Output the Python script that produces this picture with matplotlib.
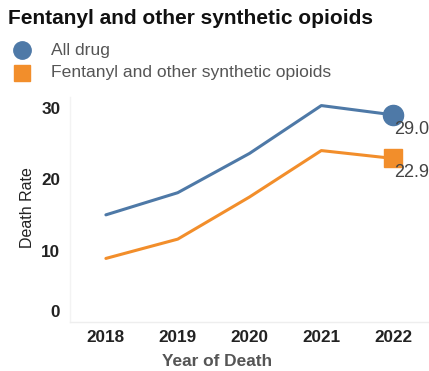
import matplotlib
matplotlib.use("Agg")
import matplotlib.pyplot as plt
from matplotlib.lines import Line2D
from matplotlib.transforms import ScaledTranslation

years = [2018, 2019, 2020, 2021, 2022]
all_drug = [15.0, 18.1, 23.6, 30.3, 29.0]
fentanyl = [8.9, 11.6, 17.5, 24.0, 22.9]
series_names = ["All drug", "Fentanyl and other synthetic opioids"]
yticks = [0, 10, 20, 30]

blue = "#4e79a7"
orange = "#f28e2b"

plt.rcParams['font.family'] = ['Liberation Sans', 'DejaVu Sans']

W, H = 429, 371
fig = plt.figure(figsize=(W / 100, H / 100), dpi=100)
ax = fig.add_axes([70 / W, 1 - 322 / H, (429 - 70) / W, (322 - 97) / H])

ax.plot(years, all_drug, color=blue, lw=2.2, solid_capstyle='round')
ax.plot(years, fentanyl, color=orange, lw=2.2, solid_capstyle='round')
ax.plot(years[-1], all_drug[-1], marker='o', ms=14.5, color=blue, clip_on=False)
ax.plot(years[-1], fentanyl[-1], marker='s', ms=13, color=orange, clip_on=False)

for vals in (all_drug, fentanyl):
    ax.annotate(f"{vals[-1]:.1f}", (years[-1], vals[-1]), xytext=(1, -6),
                textcoords='offset pixels', ha='left', va='top',
                fontsize=13, color='#444444', annotation_clip=False)

ax.set_xlim(2017.5, 2022.5)
ax.set_ylim(0, 31.5)
ax.set_xticks(years)
ax.set_xticklabels([str(y) for y in years], fontweight='bold', fontsize=12.3, color='#222222')
ax.set_yticks(yticks)
ax.set_yticklabels([str(t) for t in yticks], fontweight='bold', fontsize=12.3, color='#222222')
ax.tick_params(length=0)
ax.tick_params(axis='y', pad=7)
ax.tick_params(axis='x', pad=6)
t0 = ax.yaxis.get_major_ticks()[0].label1
t0.set_transform(t0.get_transform() + ScaledTranslation(0, 11 / 100, fig.dpi_scale_trans))

for s in ['top', 'right']:
    ax.spines[s].set_visible(False)
ax.spines['bottom'].set_color('#eeeeee')
ax.spines['left'].set_color('#f3f3f3')
ax.spines['bottom'].set_linewidth(1)
ax.spines['left'].set_linewidth(1)

fig.text(27 / W, 1 - 208 / H, "Death Rate", rotation=90, ha='center', va='center',
         fontsize=11.5, color='#222222')
fig.text(217 / W, 1 - 362 / H, "Year of Death", ha='center', va='center',
         fontsize=12.4, fontweight='bold', color='#555555')

fig.text(8 / W, 1 - 18 / H, "Fentanyl and other synthetic opioids", ha='left', va='center',
         fontsize=15, fontweight='bold', color='#111111')

fig.add_artist(Line2D([22 / W], [1 - 50 / H], marker='o', ms=12.5, color=blue,
                      transform=fig.transFigure))
fig.add_artist(Line2D([22 / W], [1 - 73 / H], marker='s', ms=11, color=orange,
                      transform=fig.transFigure))
fig.text(51 / W, 1 - 50 / H, series_names[0], ha='left', va='center',
         fontsize=12.6, color='#555555')
fig.text(51 / W, 1 - 73 / H, series_names[1], ha='left', va='center',
         fontsize=12.6, color='#555555')

fig.savefig("out.png", dpi=100, facecolor='white')
